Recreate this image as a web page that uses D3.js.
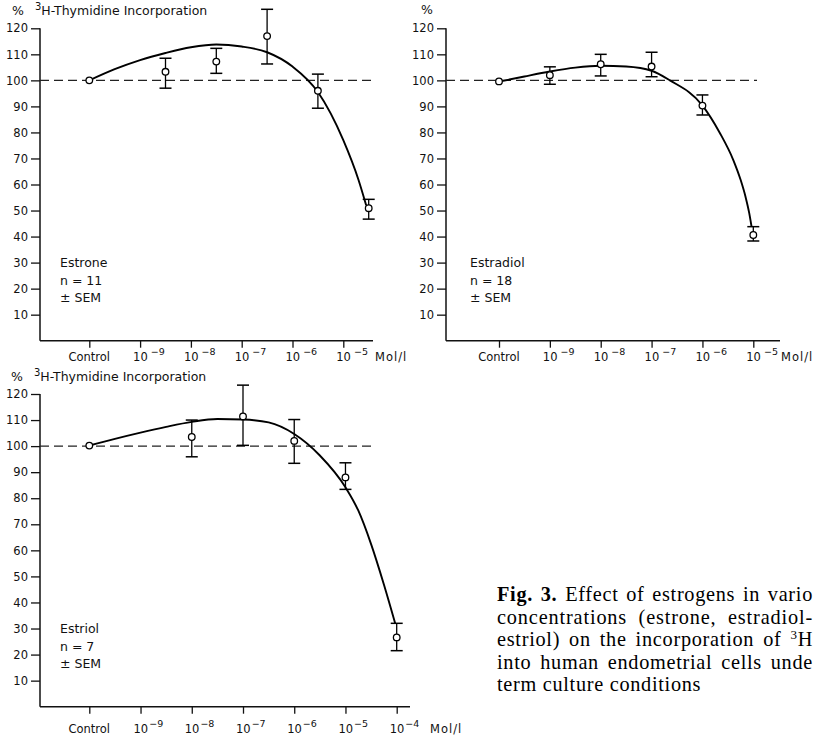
<!DOCTYPE html>
<html><head><meta charset="utf-8">
<script src="https://cdn.jsdelivr.net/npm/d3@7"></script>
<style>body{margin:0;background:#fff;} svg{display:block;}</style>
</head><body><svg id="c" width="815" height="741"></svg>
<script>
// ---------- data ----------
const yTicks = [10,20,30,40,50,60,70,80,90,100,110,120];
const concTicksTop = [-10,-9,-8,-7,-6,-5];      // -10 = Control
const concTicksBottom = [-10,-9,-8,-7,-6,-5,-4];
const controlLabel = "Control";
const unitLabel = "Mol/l";
const titleText = "H-Thymidine Incorporation";

const estroneConc = [-10,-8.5,-7.5,-6.5,-5.5,-4.5];
const estroneMean = [100,103.3,107.2,117.0,96.0,50.9];
const estroneLow  = [null,97.0,102.7,106.3,89.3,46.7];
const estroneHigh = [null,108.5,112.3,127.3,102.4,54.3];
const estroneFitConc = [-10,-9.5,-9,-8.5,-8,-7.5,-7,-6.5,-6,-5.5,-5,-4.7,-4.55];
const estroneFitVal  = [100,104.3,107.8,110.5,112.7,113.8,113,110.8,105.3,95.5,77,61.7,52];

const estradiolConc = [-10,-9,-8,-7,-6,-5];
const estradiolMean = [99.6,102,106.2,105.3,90.3,40.6];
const estradiolLow  = [null,98.5,101.7,101.4,86.7,38.3];
const estradiolHigh = [null,105.2,110,110.8,94.4,43.8];
const estradiolFitConc = [-10,-9.5,-9,-8.5,-8,-7.5,-7,-6.64,-6.01,-5.655,-5.393,-5.248,-5.153,-5.079,-5.035];
const estradiolFitVal  = [99.5,101.5,103.4,104.9,105.6,105.3,103.7,100,90.6,79.7,69.4,61.7,55.3,48.9,43.9];

const estriolConc = [-10,-8,-7,-6,-5,-4];
const estriolMean = [100.2,103.5,111.4,102,88,26.6];
const estriolLow  = [null,95.9,100.3,93.4,83.4,21.5];
const estriolHigh = [null,110,123.4,110.2,93.6,32];
const estriolFitConc = [-10,-9.5,-9,-8.5,-8,-7.5,-7,-6.5,-6,-5.5,-5,-4.75,-4.5,-4.25,-4.03];
const estriolFitVal  = [100.2,102.8,105.2,107.4,109.3,110.4,110.2,109.1,104.65,96.4,84.2,75.3,62.4,46.9,32];

const legend1 = ["Estrone","n = 11","± SEM"];
const legend2 = ["Estradiol","n = 18","± SEM"];
const legend3 = ["Estriol","n = 7","± SEM"];

const captionBold = "Fig. 3.";
const captionLines = [
  " Effect of estrogens in vario",
  "concentrations (estrone, estradiol-",
  "estriol) on the incorporation of ",
  "into human endometrial cells unde",
  "term culture conditions"
];

// ---------- drawing ----------
const svg = d3.select("#c");
const FONT = "'DejaVu Sans', sans-serif";
svg.append("rect").attr("width",815).attr("height",741).attr("fill","#fff");

function panel(o) {
  const g = svg.append("g");
  const y = d3.scaleLinear().domain([0,120]).range([o.y0, o.y120]);
  const x = d3.scaleLinear().domain(o.xDomain).range(o.xRange);

  // y axis
  const ya = g.append("g").attr("transform",`translate(${o.ax},0)`)
    .call(d3.axisLeft(y).tickValues(yTicks).tickSize(9).tickPadding(3).tickFormat(d3.format("d")));
  ya.select(".domain").remove();
  ya.selectAll("line").attr("stroke","#111").attr("stroke-width",1.3);
  ya.selectAll("text").attr("font-family",FONT).attr("font-size",11.5).attr("fill","#111");
  g.append("line").attr("x1",o.ax).attr("x2",o.ax).attr("y1",y(0)).attr("y2",y(120))
    .attr("stroke","#111").attr("stroke-width",1.5);

  // x axis
  const xa = g.append("g").attr("transform",`translate(0,${y(0)})`)
    .call(d3.axisBottom(x).tickValues(o.ticks).tickSize(7).tickFormat(""));
  xa.select(".domain").remove();
  xa.selectAll("line").attr("stroke","#111").attr("stroke-width",1.3);
  g.append("line").attr("x1",o.ax).attr("x2",o.axEnd).attr("y1",y(0)).attr("y2",y(0))
    .attr("stroke","#111").attr("stroke-width",1.5);

  // x labels
  o.ticks.forEach(t => {
    if (t === -10) {
      g.append("text").attr("x",x(t)).attr("y",o.labY).attr("text-anchor","middle")
        .attr("font-family",FONT).attr("font-size",11.5).attr("fill","#111").text(controlLabel);
    } else {
      const tx = g.append("text").attr("x",x(t)-7).attr("y",o.labY)
        .attr("font-family",FONT).attr("font-size",11.5).attr("fill","#111");
      tx.append("tspan").text("10");
      tx.append("tspan").attr("dy",-6).attr("font-size",9.5).attr("dx",o.supGap).text("−" + (-t));
    }
  });
  g.append("text").attr("x",o.molX).attr("y",o.labY).attr("font-family",FONT)
    .attr("font-size",11.5).attr("letter-spacing",1).attr("fill","#111").text(unitLabel);

  // dashed 100% line
  g.append("line").attr("x1",o.ax).attr("x2",o.dashEnd).attr("y1",y(100)).attr("y2",y(100))
    .attr("stroke","#222").attr("stroke-width",1.2).attr("stroke-dasharray","9,5");

  // fit curve
  const fit = o.fitConc.map((c,i)=>[c,o.fitVal[i]]);
  g.append("path").datum(fit)
    .attr("d", d3.line().x(d=>x(d[0])).y(d=>y(d[1])).curve(d3.curveMonotoneX))
    .attr("fill","none").attr("stroke","#000").attr("stroke-width",1.9);

  // error bars
  o.conc.forEach((c,i) => {
    if (o.low[i] == null) return;
    const cx = x(c);
    g.append("line").attr("x1",cx).attr("x2",cx).attr("y1",y(o.low[i])).attr("y2",y(o.high[i]))
      .attr("stroke","#000").attr("stroke-width",1.3);
    [o.low[i], o.high[i]].forEach(v => {
      g.append("line").attr("x1",cx-6).attr("x2",cx+6).attr("y1",y(v)).attr("y2",y(v))
        .attr("stroke","#000").attr("stroke-width",1.5);
    });
  });
  // points
  g.selectAll("circle.pt").data(o.conc.map((c,i)=>[c,o.mean[i]])).enter().append("circle")
    .attr("cx",d=>x(d[0])).attr("cy",d=>y(d[1])).attr("r",3.3)
    .attr("fill","#fff").attr("stroke","#000").attr("stroke-width",1.3);

  // legend text
  o.legend.forEach((t,i) => {
    g.append("text").attr("x",o.legX).attr("y",o.legY + i*17.5).attr("font-family",FONT)
      .attr("font-size",12.5).attr("fill","#111").text(t);
  });

  // title
  if (o.title) {
    const tt = g.append("text").attr("x",o.titleX).attr("y",o.titleY).attr("font-family",FONT)
      .attr("font-size",12.5).attr("fill","#111");
    tt.append("tspan").text("%");
    tt.append("tspan").attr("dx",11).attr("dy",-5).attr("font-size",10).text("3");
    tt.append("tspan").attr("dy",5).text(titleText);
  } else {
    g.append("text").attr("x",o.titleX).attr("y",o.titleY).attr("font-family",FONT)
      .attr("font-size",12.5).attr("fill","#111").text("%");
  }
}

panel({ax:40, axEnd:373, dashEnd:373, y0:340.7, y120:28.3,
  xDomain:[-10,-5], xRange:[89.3,343.3], ticks:concTicksTop, labY:361, supGap:3, molX:375,
  conc:estroneConc, mean:estroneMean, low:estroneLow, high:estroneHigh,
  fitConc:estroneFitConc, fitVal:estroneFitVal, legend:legend1, legX:60, legY:267,
  title:true, titleX:12, titleY:15});

panel({ax:446, axEnd:780, dashEnd:757, y0:340.7, y120:28.3,
  xDomain:[-10,-5], xRange:[499,753.3], ticks:concTicksTop, labY:361, supGap:3, molX:781,
  conc:estradiolConc, mean:estradiolMean, low:estradiolLow, high:estradiolHigh,
  fitConc:estradiolFitConc, fitVal:estradiolFitVal, legend:legend2, legX:470, legY:267,
  title:false, titleX:421, titleY:14});

panel({ax:40, axEnd:410, dashEnd:375, y0:706.7, y120:394,
  xDomain:[-10,-4], xRange:[89.3,396.7], ticks:concTicksBottom, labY:733, supGap:1, molX:430,
  conc:estriolConc, mean:estriolMean, low:estriolLow, high:estriolHigh,
  fitConc:estriolFitConc, fitVal:estriolFitVal, legend:legend3, legX:60, legY:633,
  title:true, titleX:11, titleY:381});

// caption (justified lines, as in the printed figure legend)
const capX = 497, capRight = 813, capSize = 20.3, capLead = 22.6, baseLS = 0.7;
const cap = svg.append("g").attr("font-family","'Liberation Serif', 'Times New Roman', serif")
  .attr("font-size",capSize).attr("fill","#000");
captionLines.forEach((line,i) => {
  const t = cap.append("text").attr("x",capX).attr("y",601 + i*capLead)
    .attr("letter-spacing",baseLS);
  if (i === 0) t.append("tspan").attr("font-weight","bold").text(captionBold);
  t.append("tspan").text(line);
  if (i === 2) {
    t.append("tspan").attr("dy",-7).attr("font-size",13).text("3");
    t.append("tspan").attr("dy",7).text("H");
  }
  if (i < captionLines.length - 1) {
    const full = (i === 0 ? captionBold : "") + line + (i === 2 ? "3H" : "");
    const spaces = (full.match(/ /g) || []).length;
    let extra = capRight - capX - t.node().getComputedTextLength();
    // spread part of the surplus over letters, the rest over word gaps
    if (extra > 3 * spaces) {
      const ls = baseLS + (extra - 3 * spaces) * 0.5 / full.length;
      t.attr("letter-spacing", ls);
      extra = capRight - capX - t.node().getComputedTextLength();
    }
    if (spaces > 0 && extra > 0) t.attr("word-spacing", extra / spaces);
  }
});
</script></body></html>
